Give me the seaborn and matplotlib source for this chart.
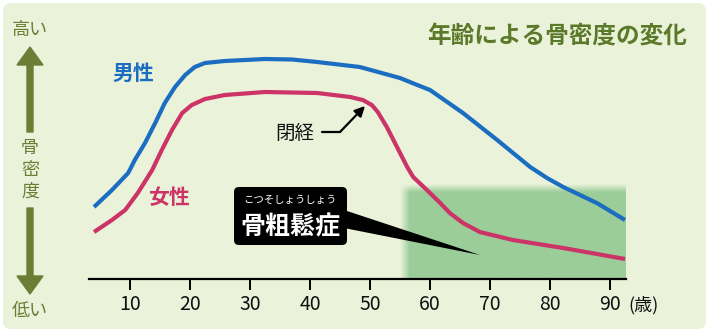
import numpy as np
import pandas as pd
import matplotlib
matplotlib.use("Agg")
import matplotlib.pyplot as plt
import matplotlib.transforms as mtransforms
from matplotlib.patches import FancyBboxPatch, Polygon, FancyArrow
import seaborn as sns

# Bone density (relative index) by age
male_age = [4.0, 7.0, 9.7, 10.8, 12.5, 14.2, 15.8, 17.5, 19.2, 20.8, 22.5, 25.8,
            32.5, 37.0, 41.2, 48.3, 55.0, 58.3, 60.0, 65.5, 71.2, 76.7, 79.5,
            82.2, 87.8, 92.5]
male_density = [72, 89, 106, 119, 136, 156, 176, 192, 204, 212, 216, 218,
                220, 219.5, 217, 212, 201, 193, 189, 166, 139, 112, 101,
                92, 76, 59]

female_age = [4.0, 7.0, 9.2, 11.3, 13.7, 15.3, 17.0, 18.7, 20.3, 22.5, 25.8,
              32.5, 41.2, 46.7, 48.8, 50.3, 51.3, 52.8, 54.5, 56.2, 57.2,
              60.0, 61.7, 63.3, 65.5, 68.3, 73.8, 82.2, 92.5]
female_density = [47, 59, 69, 86, 109, 129, 149, 166, 174, 180, 184,
                  187, 186, 182, 179, 174, 167, 152, 132, 112, 102,
                  86, 76, 66, 56, 47, 39, 31, 20]

tick_ages = [10, 20, 30, 40, 50, 60, 70, 80, 90]
tick_labels = ["10", "20", "30", "40", "50", "60", "70", "80", "90"]

osteoporosis_age = 56.5      # zone where density falls below the threshold
osteoporosis_level = 95

BG = "#EAF2DA"
OLIVE = "#6A7E36"
TITLE = "#5B7A29"
BLUE = "#1B6DC2"
PINK = "#CC3366"
ZONE = "#9BCD99"

W, H = 709, 332
sns.set_theme(style="white")
plt.rcParams["font.family"] = ["Noto Sans CJK JP", "DejaVu Sans"]

fig = plt.figure(figsize=(W / 100, H / 100), dpi=100)
fig.patch.set_facecolor("white")
# pixel transform measured from the top-left corner
px = mtransforms.Affine2D().scale(1 / 100, -1 / 100).translate(0, H / 100) + fig.dpi_scale_trans

fig.patches.append(FancyBboxPatch((3, 3), W - 6, H - 6,
                                  boxstyle="round,pad=0,rounding_size=8",
                                  transform=px, facecolor=BG, edgecolor="none", zorder=-5))

x_lo, x_hi = (89 - 70) / 6, (626 - 70) / 6
ax = fig.add_axes([89 / W, (H - 279) / H, (626 - 89) / W, (279 - 20) / H])
ax.set_zorder(1)
ax.set_facecolor("none")
ax.patch.set_alpha(0)
ax.set_xlim(x_lo, x_hi)
ax.set_ylim(0, 259)

# soft-edged osteoporosis zone
nx, ny = 400, 200
xs = np.linspace(osteoporosis_age - 1.5, x_hi, nx)
ys = np.linspace(0, osteoporosis_level, ny)
ax_alpha = np.clip((xs - (osteoporosis_age - 1.5)) / 1.6, 0, 1)
ay_alpha = np.clip((osteoporosis_level - ys) / 8.0, 0, 1)
alpha = np.outer(ay_alpha[::-1], ax_alpha)
rgba = np.zeros((ny, nx, 4))
rgba[..., :3] = matplotlib.colors.to_rgb(ZONE)
rgba[..., 3] = alpha
ax.imshow(rgba, extent=(xs[0], xs[-1], 0, osteoporosis_level), aspect="auto",
          interpolation="bilinear", zorder=1)

df = pd.concat([
    pd.DataFrame({"age": male_age, "density": male_density, "sex": "男性"}),
    pd.DataFrame({"age": female_age, "density": female_density, "sex": "女性"}),
])
sns.lineplot(data=df, x="age", y="density", hue="sex", estimator=None,
             palette={"男性": BLUE, "女性": PINK}, linewidth=3.0,
             legend=False, ax=ax, zorder=3, solid_capstyle="butt",
             solid_joinstyle="round")

for s in ["top", "right", "left"]:
    ax.spines[s].set_visible(False)
ax.spines["bottom"].set_color("black")
ax.spines["bottom"].set_linewidth(1.6)
ax.set_yticks([])
ax.set_xticks(tick_ages)
ax.set_xticklabels(tick_labels, fontsize=14, color="#111111")
ax.tick_params(axis="x", direction="out", length=8, width=1.4, color="black", pad=3,
               bottom=True)
ax.set_xlabel("")
ax.set_ylabel("")

fig.text(644, 305, "(歳)", transform=px, fontsize=13, color="#111111",
         ha="center", va="center")

# title and series labels
fig.text(557, 36, "年齢による骨密度の変化", transform=px, fontsize=17,
         color=TITLE, fontweight="bold", ha="center", va="center")
fig.text(133, 73, "男性", transform=px, fontsize=15, color=BLUE,
         fontweight="bold", ha="center", va="center")
fig.text(169, 197, "女性", transform=px, fontsize=15, color=PINK,
         fontweight="bold", ha="center", va="center")

# vertical density scale on the left
fig.text(30, 30, "高い", transform=px, fontsize=13, color=OLIVE, ha="center", va="center")
fig.text(30, 311, "低い", transform=px, fontsize=13, color=OLIVE, ha="center", va="center")
for i, ch in enumerate("骨密度"):
    fig.text(30, 148 + i * 22, ch, transform=px, fontsize=13, color=OLIVE,
             ha="center", va="center")
fig.patches.append(FancyArrow(30, 132, 0, -85, width=6, head_width=26, head_length=18,
                              length_includes_head=True, transform=px,
                              color=OLIVE, zorder=2))
fig.patches.append(FancyArrow(30, 208, 0, 86, width=6, head_width=26, head_length=18,
                              length_includes_head=True, transform=px,
                              color=OLIVE, zorder=2))

# menopause pointer
fig.text(295, 133, "閉経", transform=px, fontsize=14, color="#111111",
         ha="center", va="center")
fig.lines.append(plt.Line2D([322, 340], [132, 132], transform=px, color="black",
                            linewidth=1.6))
ax.annotate("", xy=((365 - 70) / 6, 279 - 106), xytext=(340, 132), textcoords=px,
            arrowprops=dict(arrowstyle="-|>,head_length=0.5,head_width=0.25",
                            color="black", lw=1.6, shrinkA=0, shrinkB=0))

# osteoporosis callout
fig.patches.append(Polygon([(344, 210), (344, 228), (480, 255)], closed=True,
                           transform=px, facecolor="black", edgecolor="none", zorder=4))
fig.patches.append(FancyBboxPatch((234, 187), 113, 58,
                                  boxstyle="round,pad=0,rounding_size=5",
                                  transform=px, facecolor="black", edgecolor="none",
                                  zorder=5))
fig.text(290, 200, "こつそしょうしょう", transform=px, fontsize=7.5, color="white",
         ha="center", va="center", zorder=6)
fig.text(290, 227, "骨粗鬆症", transform=px, fontsize=18, color="white",
         fontweight="bold", ha="center", va="center", zorder=6)

fig.savefig("out.png", dpi=100, facecolor=fig.get_facecolor())
